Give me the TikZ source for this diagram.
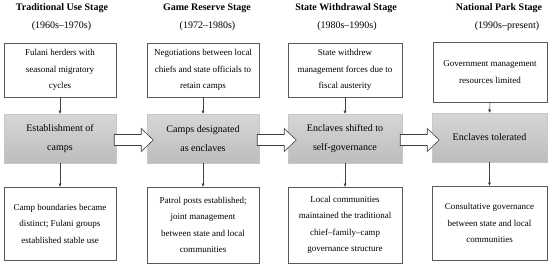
\documentclass[tikz,border=0pt]{standalone}
\usepackage{fontspec}
\setmainfont{Liberation Serif}
\usetikzlibrary{arrows.meta,calc}
\begin{document}
\begin{tikzpicture}[x=1pt,y=-1pt,
  title/.style={font=\fontsize{10}{12}\selectfont\rmfamily\bfseries, inner sep=0pt},
  years/.style={font=\fontsize{10}{12}\selectfont\rmfamily, inner sep=0pt},
  wbox/.style={draw=black!65, line width=0.6pt, fill=white, align=center, inner sep=0pt,
    font=\fontsize{9}{16.5}\selectfont\rmfamily},
  gbox/.style={draw=black!22, line width=0.5pt, top color=black!16, bottom color=black!26,
    align=center, inner sep=0pt, font=\fontsize{10}{19}\selectfont\rmfamily},
  varr/.style={draw=black!75, line width=0.5pt, -{Triangle[length=3.2pt,width=2.8pt]}},
  barr/.style={draw=black!75, line width=0.6pt, fill=white, line join=miter}
]
\useasboundingbox (0,0) rectangle (550,265);
% titles
\node[title] (t1) at (62,8) {Traditional Use Stage};
\node[years] (y1) at (61.5,26) {(1960s–1970s)};
\node[title] (t2) at (207,8) {Game Reserve Stage};
\node[years] (y2) at (207.5,26) {(1972–1980s)};
\node[title] (t3) at (346,8) {State Withdrawal Stage};
\node[years] (y3) at (347,26) {(1980s–1990s)};
\node[title] (t4) at (499,8) {National Park Stage};
\node[years] (y4) at (507,26) {(1990s–present)};
% top boxes
\node[wbox, minimum width=112, minimum height=54] (a1) at (60,70) {Fulani herders with\\seasonal migratory\\cycles};
\node[wbox, minimum width=112, minimum height=54] (a2) at (203,70) {Negotiations between local\\chiefs and state officials to\\retain camps};
\node[wbox, minimum width=114, minimum height=54] (a3) at (345,70) {State withdrew\\management forces due to\\fiscal austerity};
\node[wbox, minimum width=114, minimum height=60] (a4) at (490,72) {Government management\\resources limited};
% gray boxes
\node[gbox, minimum width=112, minimum height=49] (g1) at (60,138.5) {Establishment of\\camps};
\node[gbox, minimum width=112, minimum height=49] (g2) at (203,138.5) {Camps designated\\as enclaves};
\node[gbox, minimum width=114, minimum height=49] (g3) at (345,138.5) {Enclaves shifted to\\self-governance};
\node[gbox, minimum width=115, minimum height=49] (g4) at (489.5,137.5) {Enclaves tolerated};
% bottom boxes
\node[wbox, minimum width=112, minimum height=73] (b1) at (60,223.5) {Camp boundaries became\\distinct; Fulani groups\\established stable use};
\node[wbox, minimum width=112, minimum height=76] (b2) at (203,225) {Patrol posts established;\\joint management\\between state and local\\communities};
\node[wbox, minimum width=114, minimum height=76] (b3) at (345,225) {Local communities\\maintained the traditional\\chief–family–camp\\governance structure};
\node[wbox, minimum width=115, minimum height=74] (b4) at (489.5,223) {Consultative governance\\between state and local\\communities};
% vertical arrows
\foreach \i in {1,2,3,4}{
  \draw[varr] (a\i.south) -- (g\i.north);
  \draw[varr] (g\i.south) -- (b\i.north);
}
% block arrows
\foreach \s/\t in {g1/g2,g2/g3,g3/g4}{
  \draw[barr] ($(\s.east)+(-2,-4)$) -- ($(\s.east)+(25,-4)$) -- ($(\s.east)+(25,-10)$)
    -- ($(\s.east)+(37,1.5)$) -- ($(\s.east)+(25,13)$) -- ($(\s.east)+(25,7)$)
    -- ($(\s.east)+(-2,7)$) -- cycle;
}
\end{tikzpicture}
\end{document}
